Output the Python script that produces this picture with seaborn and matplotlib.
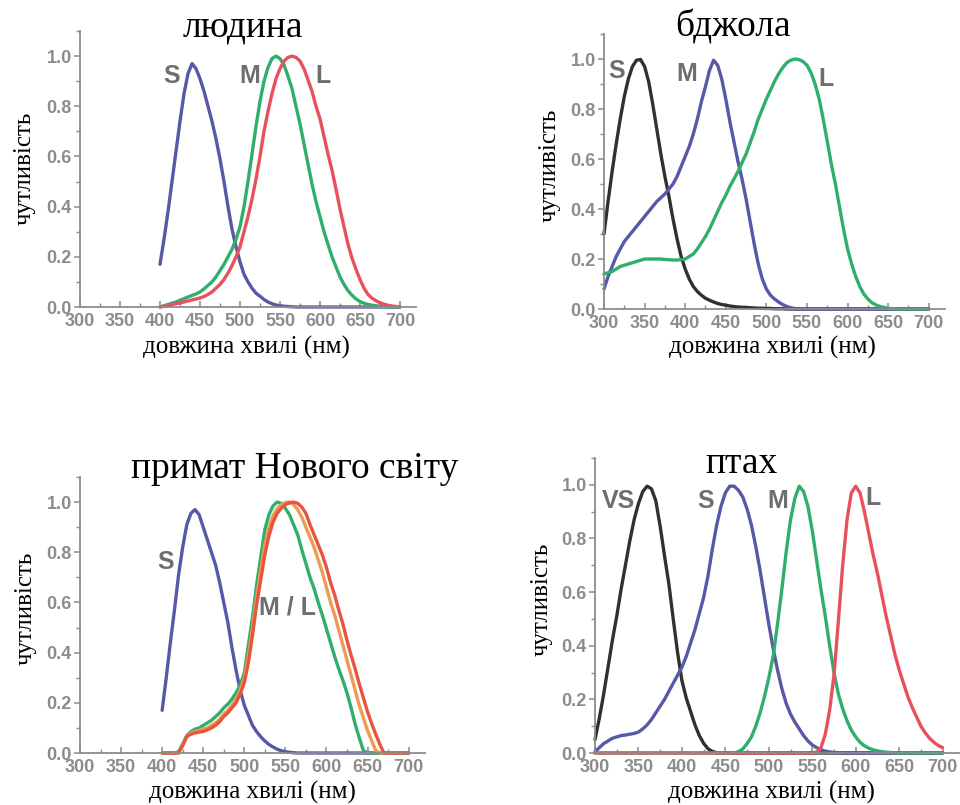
import numpy as np
import pandas as pd
import matplotlib
matplotlib.use("Agg")
import matplotlib.pyplot as plt
from matplotlib.ticker import MultipleLocator
from matplotlib.font_manager import FontProperties
import seaborn as sns

# ---------------------------------------------------------------------------
# Normalised cone sensitivity curves, sampled every 5 nm
# ---------------------------------------------------------------------------
wl_400 = list(range(400, 701, 5))   # 61 samples
wl_300 = list(range(300, 701, 5))   # 81 samples

# людина (human)
human_S = [0.17, 0.27, 0.38, 0.50, 0.62, 0.74, 0.85, 0.93, 0.97, 0.95,
           0.91, 0.86, 0.80, 0.74, 0.67, 0.59, 0.50, 0.40, 0.31, 0.24,
           0.18, 0.13, 0.10, 0.075, 0.055, 0.043, 0.03, 0.02, 0.013, 0.008,
           0.005, 0.003, 0.002, 0.001, 0.0, 0.0, 0.0, 0.0, 0.0, 0.0,
           0.0, 0.0, 0.0, 0.0, 0.0, 0.0, 0.0, 0.0, 0.0, 0.0,
           0.0, 0.0, 0.0, 0.0, 0.0, 0.0, 0.0, 0.0, 0.0, 0.0, 0.0]
human_M = [0.0, 0.005, 0.01, 0.015, 0.02, 0.027, 0.033, 0.04, 0.046, 0.052,
           0.06, 0.072, 0.086, 0.10, 0.12, 0.145, 0.17, 0.20, 0.23, 0.27,
           0.32, 0.40, 0.50, 0.61, 0.72, 0.82, 0.90, 0.955, 0.99, 1.0,
           0.99, 0.965, 0.92, 0.87, 0.80, 0.73, 0.65, 0.57, 0.49, 0.42,
           0.36, 0.30, 0.25, 0.20, 0.16, 0.12, 0.09, 0.065, 0.047, 0.032,
           0.022, 0.015, 0.01, 0.007, 0.005, 0.003, 0.002, 0.001, 0.0, 0.0, 0.0]
human_L = [0.0, 0.003, 0.006, 0.01, 0.013, 0.016, 0.02, 0.024, 0.028, 0.032,
           0.036, 0.042, 0.05, 0.06, 0.075, 0.09, 0.11, 0.135, 0.165, 0.20,
           0.24, 0.30, 0.36, 0.43, 0.51, 0.60, 0.70, 0.78, 0.85, 0.91,
           0.95, 0.98, 0.995, 1.0, 0.995, 0.98, 0.95, 0.905, 0.86, 0.80,
           0.75, 0.68, 0.61, 0.545, 0.47, 0.39, 0.32, 0.25, 0.195, 0.15,
           0.11, 0.075, 0.05, 0.035, 0.025, 0.017, 0.011, 0.007, 0.004, 0.002, 0.0]

# бджола (bee)
bee_S = [0.30, 0.43, 0.55, 0.66, 0.76, 0.85, 0.92, 0.97, 0.995, 0.998,
         0.97, 0.91, 0.82, 0.72, 0.62, 0.53, 0.45, 0.36, 0.28, 0.21,
         0.16, 0.12, 0.09, 0.07, 0.055, 0.043, 0.035, 0.028, 0.022, 0.018,
         0.015, 0.012, 0.01, 0.008, 0.007, 0.006, 0.005, 0.004, 0.003, 0.003,
         0.002, 0.002, 0.001, 0.001, 0.001, 0.0, 0.0, 0.0, 0.0, 0.0,
         0.0, 0.0, 0.0, 0.0, 0.0, 0.0, 0.0, 0.0, 0.0, 0.0,
         0.0, 0.0, 0.0, 0.0, 0.0, 0.0, 0.0, 0.0, 0.0, 0.0,
         0.0, 0.0, 0.0, 0.0, 0.0, 0.0, 0.0, 0.0, 0.0, 0.0, 0.0]
bee_M = [0.08, 0.13, 0.17, 0.21, 0.24, 0.27, 0.29, 0.31, 0.33, 0.35,
         0.37, 0.39, 0.41, 0.43, 0.445, 0.46, 0.48, 0.50, 0.53, 0.57,
         0.61, 0.65, 0.70, 0.76, 0.83, 0.89, 0.955, 0.995, 0.975, 0.92,
         0.84, 0.75, 0.67, 0.59, 0.52, 0.44, 0.35, 0.26, 0.18, 0.12,
         0.08, 0.055, 0.04, 0.028, 0.018, 0.01, 0.005, 0.002, 0.0, 0.0,
         0.0, 0.0, 0.0, 0.0, 0.0, 0.0, 0.0, 0.0, 0.0, 0.0,
         0.0, 0.0, 0.0, 0.0, 0.0, 0.0, 0.0, 0.0, 0.0, 0.0,
         0.0, 0.0, 0.0, 0.0, 0.0, 0.0, 0.0, 0.0, 0.0, 0.0, 0.0]
bee_L = [0.14, 0.145, 0.15, 0.16, 0.17, 0.175, 0.18, 0.185, 0.19, 0.195,
         0.20, 0.20, 0.20, 0.20, 0.20, 0.198, 0.197, 0.196, 0.196, 0.197,
         0.20, 0.21, 0.22, 0.24, 0.265, 0.29, 0.32, 0.355, 0.39, 0.425,
         0.455, 0.49, 0.52, 0.55, 0.585, 0.62, 0.665, 0.71, 0.76, 0.80,
         0.84, 0.875, 0.91, 0.94, 0.965, 0.985, 0.995, 1.0, 0.998, 0.99,
         0.975, 0.945, 0.90, 0.84, 0.76, 0.67, 0.58, 0.50, 0.41, 0.32,
         0.24, 0.18, 0.13, 0.09, 0.06, 0.04, 0.025, 0.016, 0.01, 0.006,
         0.003, 0.001, 0.0, 0.0, 0.0, 0.0, 0.0, 0.0, 0.0, 0.0, 0.0]

# примат Нового світу (New World primate)
prim_S = [0.17, 0.30, 0.44, 0.57, 0.71, 0.82, 0.91, 0.955, 0.97, 0.95,
          0.90, 0.85, 0.80, 0.75, 0.68, 0.60, 0.52, 0.42, 0.33, 0.25,
          0.19, 0.15, 0.11, 0.085, 0.065, 0.048, 0.034, 0.024, 0.015, 0.009,
          0.005, 0.003, 0.001, 0.0, 0.0, 0.0, 0.0, 0.0, 0.0, 0.0,
          0.0, 0.0, 0.0, 0.0, 0.0, 0.0, 0.0, 0.0, 0.0, 0.0,
          0.0, 0.0, 0.0, 0.0, 0.0, 0.0, 0.0, 0.0, 0.0, 0.0, 0.0]
prim_M = [0.0, 0.0, 0.0, 0.0, 0.005, 0.035, 0.07, 0.085, 0.095, 0.10,
          0.11, 0.12, 0.13, 0.145, 0.16, 0.18, 0.195, 0.215, 0.24, 0.27,
          0.32, 0.43, 0.54, 0.67, 0.78, 0.89, 0.95, 0.985, 1.0, 0.995,
          0.975, 0.95, 0.91, 0.87, 0.81, 0.755, 0.70, 0.655, 0.60, 0.55,
          0.495, 0.44, 0.385, 0.335, 0.29, 0.24, 0.18, 0.115, 0.06, 0.01,
          0.0, 0.0, 0.0, 0.0, 0.0, 0.0, 0.0, 0.0, 0.0, 0.0, 0.0]
prim_ML = [0.0, 0.0, 0.0, 0.0, 0.0, 0.03, 0.068, 0.08, 0.085, 0.09,
           0.095, 0.10, 0.11, 0.12, 0.135, 0.155, 0.17, 0.19, 0.215, 0.25,
           0.30, 0.39, 0.50, 0.62, 0.73, 0.83, 0.90, 0.945, 0.975, 0.99,
           0.998, 1.0, 0.99, 0.97, 0.94, 0.90, 0.86, 0.82, 0.77, 0.72,
           0.66, 0.60, 0.55, 0.49, 0.43, 0.37, 0.31, 0.25, 0.19, 0.14,
           0.09, 0.05, 0.01, 0.0, 0.0, 0.0, 0.0, 0.0, 0.0, 0.0, 0.0]
prim_L = [0.0, 0.0, 0.0, 0.0, 0.0, 0.03, 0.065, 0.075, 0.08, 0.083,
          0.086, 0.092, 0.10, 0.11, 0.125, 0.145, 0.16, 0.18, 0.20, 0.235,
          0.28, 0.36, 0.47, 0.59, 0.69, 0.79, 0.865, 0.92, 0.955, 0.975,
          0.99, 0.997, 1.0, 0.995, 0.98, 0.955, 0.91, 0.87, 0.83, 0.79,
          0.74, 0.68, 0.63, 0.57, 0.515, 0.45, 0.39, 0.335, 0.275, 0.22,
          0.165, 0.118, 0.075, 0.035, 0.0, 0.0, 0.0, 0.0, 0.0, 0.0, 0.0]

# птах (bird)
bird_VS = [0.05, 0.13, 0.22, 0.32, 0.42, 0.51, 0.61, 0.70, 0.79, 0.87,
           0.93, 0.975, 0.995, 0.985, 0.94, 0.845, 0.735, 0.63, 0.50, 0.375,
           0.27, 0.205, 0.155, 0.105, 0.065, 0.036, 0.016, 0.006, 0.001, 0.0,
           0.0, 0.0, 0.0, 0.0, 0.0, 0.0, 0.0, 0.0, 0.0, 0.0,
           0.0, 0.0, 0.0, 0.0, 0.0, 0.0, 0.0, 0.0, 0.0, 0.0,
           0.0, 0.0, 0.0, 0.0, 0.0, 0.0, 0.0, 0.0, 0.0, 0.0,
           0.0, 0.0, 0.0, 0.0, 0.0, 0.0, 0.0, 0.0, 0.0, 0.0,
           0.0, 0.0, 0.0, 0.0, 0.0, 0.0, 0.0, 0.0, 0.0, 0.0, 0.0]
bird_S = [0.005, 0.02, 0.035, 0.045, 0.055, 0.06, 0.065, 0.067, 0.07, 0.073,
          0.078, 0.09, 0.105, 0.125, 0.15, 0.175, 0.20, 0.23, 0.26, 0.29,
          0.32, 0.36, 0.41, 0.46, 0.52, 0.58, 0.66, 0.76, 0.85, 0.92,
          0.97, 0.995, 0.995, 0.98, 0.955, 0.91, 0.85, 0.77, 0.68, 0.58,
          0.48, 0.39, 0.31, 0.24, 0.185, 0.145, 0.115, 0.09, 0.065, 0.045,
          0.03, 0.02, 0.012, 0.007, 0.004, 0.002, 0.001, 0.0, 0.0, 0.0,
          0.0, 0.0, 0.0, 0.0, 0.0, 0.0, 0.0, 0.0, 0.0, 0.0,
          0.0, 0.0, 0.0, 0.0, 0.0, 0.0, 0.0, 0.0, 0.0, 0.0, 0.0]
bird_M = [0.0, 0.0, 0.0, 0.0, 0.0, 0.0, 0.0, 0.0, 0.0, 0.0,
          0.0, 0.0, 0.0, 0.0, 0.0, 0.0, 0.0, 0.0, 0.0, 0.0,
          0.0, 0.0, 0.0, 0.0, 0.0, 0.0, 0.0, 0.0, 0.0, 0.0,
          0.0, 0.0, 0.0, 0.005, 0.015, 0.035, 0.06, 0.10, 0.15, 0.21,
          0.28, 0.36, 0.48, 0.61, 0.75, 0.87, 0.95, 0.995, 0.975, 0.92,
          0.83, 0.72, 0.61, 0.51, 0.40, 0.30, 0.22, 0.165, 0.12, 0.085,
          0.06, 0.04, 0.027, 0.018, 0.012, 0.008, 0.005, 0.003, 0.002, 0.001,
          0.0, 0.0, 0.0, 0.0, 0.0, 0.0, 0.0, 0.0, 0.0, 0.0, 0.0]
bird_L = [0.0, 0.0, 0.0, 0.0, 0.0, 0.0, 0.0, 0.0, 0.0, 0.0,
          0.0, 0.0, 0.0, 0.0, 0.0, 0.0, 0.0, 0.0, 0.0, 0.0,
          0.0, 0.0, 0.0, 0.0, 0.0, 0.0, 0.0, 0.0, 0.0, 0.0,
          0.0, 0.0, 0.0, 0.0, 0.0, 0.0, 0.0, 0.0, 0.0, 0.0,
          0.0, 0.0, 0.0, 0.0, 0.0, 0.0, 0.0, 0.0, 0.0, 0.0,
          0.0, 0.003, 0.02, 0.07, 0.16, 0.29, 0.49, 0.70, 0.87, 0.97,
          0.995, 0.97, 0.90, 0.82, 0.74, 0.67, 0.59, 0.51, 0.44, 0.37,
          0.31, 0.26, 0.21, 0.17, 0.135, 0.10, 0.075, 0.055, 0.04, 0.028, 0.02]

# Text
titles = ["людина", "бджола", "примат Нового світу", "птах"]
y_label = "чутливість"
x_label = "довжина хвилі (нм)"
x_ticks = [300, 350, 400, 450, 500, 550, 600, 650, 700]
y_ticks = [0.0, 0.2, 0.4, 0.6, 0.8, 1.0]

# Colours
BLUE = "#5658a8"
GREEN = "#2fae6c"
RED = "#e8505e"
BLACK = "#303030"
ORANGE = "#ee9a55"
RED_ORANGE = "#e8553e"
AXIS_GREY = "#8c8c8c"
LABEL_GREY = "#6e6e6e"

W, H = 960, 805


def rect(left, right, top, bottom):
    return [left / W, 1 - bottom / H, (right - left) / W, (bottom - top) / H]


def fpos(x, y):
    return x / W, 1 - y / H


def long_form(wl, curves):
    frames = []
    for name, vals in curves:
        frames.append(pd.DataFrame({"wl": wl, "s": vals, "cone": name}))
    return pd.concat(frames, ignore_index=True)


panels = [
    dict(rect=rect(80, 416, 31, 307),
         df=long_form(wl_400, [("S", human_S), ("M", human_M), ("L", human_L)]),
         palette={"S": BLUE, "M": GREEN, "L": RED},
         labels=[("S", 415, 0.92), ("M", 512, 0.92), ("L", 604, 0.92)],
         title=(243, 36), ylab=(25, 168), xlab=(246, 347)),
    dict(rect=rect(604, 945, 34, 309),
         df=long_form(wl_300, [("S", bee_S), ("M", bee_M), ("L", bee_L)]),
         palette={"S": BLACK, "M": BLUE, "L": GREEN},
         labels=[("S", 316, 0.95), ("M", 402, 0.94), ("L", 573, 0.92)],
         title=(733, 37), ylab=(550, 165), xlab=(772, 347)),
    dict(rect=rect(80, 425, 477, 753),
         df=long_form(wl_400, [("S", prim_S), ("M", prim_M),
                               ("ML", prim_ML), ("L", prim_L)]),
         palette={"S": BLUE, "M": GREEN, "ML": ORANGE, "L": RED_ORANGE},
         labels=[("S", 404, 0.76), ("M / L", 553, 0.58)],
         title=(295, 478), ylab=(26, 608), xlab=(252, 792)),
    dict(rect=rect(595, 960, 458, 753),
         df=long_form(wl_300, [("VS", bird_VS), ("S", bird_S),
                               ("M", bird_M), ("L", bird_L)]),
         palette={"VS": BLACK, "S": BLUE, "M": GREEN, "L": RED},
         labels=[("VS", 327, 0.94), ("S", 427, 0.94), ("M", 510, 0.94),
                 ("L", 620, 0.95)],
         title=(742, 473), ylab=(542, 599), xlab=(771, 792)),
]

sns.set_style("ticks")
plt.rcParams["font.family"] = ["Liberation Serif", "DejaVu Serif"]

tick_font = FontProperties(family=["Liberation Sans Narrow", "Liberation Sans"],
                           weight="bold", size=13)
curve_font = FontProperties(family=["Liberation Sans", "DejaVu Sans"],
                            weight="bold", size=18)

fig = plt.figure(figsize=(9.6, 8.05), dpi=100)
fig.patch.set_facecolor("white")

for spec, title in zip(panels, titles):
    ax = fig.add_axes(spec["rect"])
    ax.set_facecolor("white")
    sns.lineplot(data=spec["df"], x="wl", y="s", hue="cone",
                 hue_order=list(spec["palette"].keys()),
                 palette=spec["palette"], estimator=None, sort=False,
                 legend=False, linewidth=2.4, clip_on=False, ax=ax)
    ax.set_xlim(300, 720)
    ax.set_ylim(0, 1.1)
    ax.set_xticks(x_ticks)
    ax.set_yticks(y_ticks)
    ax.set_yticklabels([f"{v:.1f}" for v in y_ticks])
    ax.xaxis.set_minor_locator(MultipleLocator(25))
    ax.yaxis.set_minor_locator(MultipleLocator(0.1))
    ax.tick_params(axis="both", which="major", length=4, width=1.1,
                   color=AXIS_GREY, labelcolor=AXIS_GREY, pad=2)
    ax.tick_params(axis="both", which="minor", length=3, width=1.0,
                   color=AXIS_GREY)
    ax.tick_params(axis="x", which="both", direction="in", pad=4)
    for lab in ax.get_xticklabels() + ax.get_yticklabels():
        lab.set_fontproperties(tick_font)
    for side in ("top", "right"):
        ax.spines[side].set_visible(False)
    for side in ("left", "bottom"):
        ax.spines[side].set_color(AXIS_GREY)
        ax.spines[side].set_linewidth(1.3)
    ax.set_xlabel("")
    ax.set_ylabel("")

    for text, x, y in spec["labels"]:
        ax.text(x, y, text, fontproperties=curve_font, color=LABEL_GREY,
                ha="center", va="center")

    tx, ty = fpos(*spec["title"])
    fig.text(tx, ty, title, fontsize=27, ha="center", va="baseline",
             color="black")
    yx, yy = fpos(*spec["ylab"])
    fig.text(yx, yy, y_label, fontsize=18, rotation=90, ha="center",
             va="center", color="black")
    xx, xy = fpos(*spec["xlab"])
    fig.text(xx, xy, x_label, fontsize=18, ha="center", va="center",
             color="black")

fig.savefig("out.png", dpi=100, facecolor="white")
